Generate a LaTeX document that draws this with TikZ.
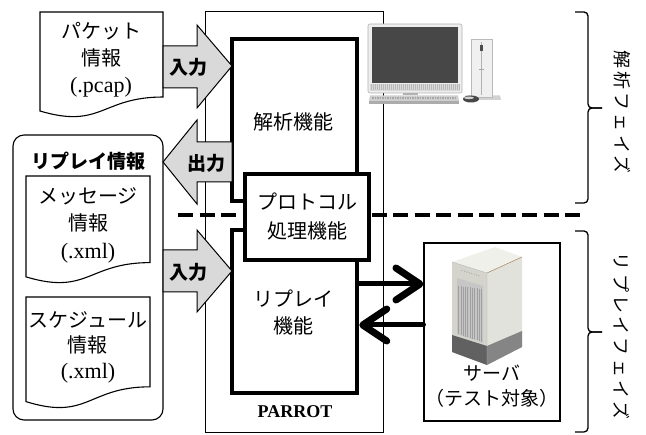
\documentclass[tikz,border=0pt]{standalone}
\usepackage{fontspec}
\setmainfont{Liberation Serif}
\newfontfamily\jp{Noto Sans CJK JP}
\usetikzlibrary{arrows.meta}

\definecolor{arrowfill}{RGB}{217,217,217}
\definecolor{srvfront}{RGB}{212,212,204}
\definecolor{srvside}{RGB}{226,226,220}
\definecolor{srvtop}{RGB}{240,240,234}

% Latin text inside Japanese blocks
\newcommand\latn[1]{{\rmfamily\fontsize{22}{27}\selectfont #1}}

% document symbol with a wavy lower edge: x1, x2, top, height
\newcommand\docshape[4]{%
  \draw[thinline, fill=white] (#1,#3) -- (#2,#3) -- (#2,{#3+0.802*#4})
    .. controls ({(#1+#2)/2},{#3+0.802*#4}) and ({(#1+#2)/2},{#3+1.107*#4})
    .. (#1,{#3+0.934*#4}) -- cycle;}

% right-pointing bracket: top, tip, bottom
\newcommand\phasebracket[3]{%
  \draw[bracket] (575,#1) -- (588,#1) -- (588,#2) -- (602,#2);
  \draw[bracket] (575,#3) -- (588,#3) -- (588,#2) -- (602,#2);}

\begin{document}
\begin{tikzpicture}[x=1pt,y=-1pt,
  thinline/.style={line width=1.1pt},
  thickbox/.style={draw, rectangle, line width=4.5pt, fill=white, inner sep=0pt},
  plainbox/.style={draw, rectangle, line width=1pt, fill=white, inner sep=0pt},
  blockarrow/.style={draw, line width=1pt, fill=arrowfill, line join=miter},
  body/.style={font=\jp\fontsize{20}{27}\selectfont, align=center, inner sep=0pt},
  tag/.style={font=\jp\bfseries\fontsize{19}{22}\selectfont, inner sep=0pt},
  flow/.style={line width=5pt, line cap=round,
    -{Straight Barb[length=24pt,width=32pt,line width=7pt,line cap=round,line join=round]}},
  phase/.style={font=\jp\fontsize{18}{18}\selectfont\addfontfeature{LetterSpace=18},
    rotate=-90, inner sep=0pt},
  bracket/.style={line width=1.3pt, rounded corners=4pt}
]
\useasboundingbox (0,0) rectangle (646,435);

% ---------- PARROT frame and its function blocks ----------
\node[plainbox, minimum width=178pt, minimum height=421pt] (parrot) at (294,222.5) {};
\node[font=\bfseries\fontsize{18}{20}\selectfont, inner sep=0pt] (parrotlabel) at (295,412) {PARROT};

\node[thickbox, minimum width=125pt, minimum height=162pt] (ana) at (294.5,120) {};
\node[body] (anatext) at (293,122) {解析機能};

\node[thickbox, minimum width=125pt, minimum height=163pt] (rep) at (294.5,311.5) {};
\node[body] (reptext) at (293,313) {リプレイ\\機能};

% phase separator
\draw[line width=4pt, dash pattern=on 15pt off 6.5pt] (178,215) -- (586,215);

\node[thickbox, minimum width=124pt, minimum height=86pt,
      body, font=\jp\fontsize{20}{29}\selectfont] (proto) at (307,217) {プロトコル\\処理機能};

% ---------- input documents ----------
\docshape{40}{163}{12}{106}
\node[body] (pkt) at (101,60) {パケット\\情報\\\latn{(.pcap)}};

\draw[thinline, rounded corners=11pt] (13,135) rectangle (163,420);
\node[tag] (info) at (88,161) {リプレイ情報};

\docshape{26}{150}{176}{108}
\node[body, font=\jp\fontsize{20}{27.5}\selectfont] (msg) at (88,225) {メッセージ\\情報\\\latn{(.xml)}};

\docshape{26}{150}{297}{112}
\node[body, font=\jp\fontsize{20}{25.5}\selectfont] (sch) at (88,347) {スケジュール\\情報\\\latn{(.xml)}};

% ---------- block arrows ----------
\draw[blockarrow] (163,46) -- (197,46) -- (197,25) -- (232,66) -- (197,108) -- (197,88) -- (163,88) -- cycle;
\node[tag] (in1) at (188,67) {入力};

\draw[blockarrow] (232,142) -- (197,142) -- (197,120) -- (163,162) -- (197,204) -- (197,182) -- (232,182) -- cycle;
\node[tag] (out) at (206,163) {出力};

\draw[blockarrow] (163,250) -- (197,250) -- (197,230) -- (232,271) -- (197,312) -- (197,292) -- (163,292) -- cycle;
\node[tag] (in2) at (188,272) {入力};

% ---------- server under test ----------
\node[draw, rectangle, line width=1.1pt, minimum width=136pt, minimum height=178pt] (srv) at (492,332) {};
\node[body, font=\jp\fontsize{19}{25}\selectfont] (srvtext) at (492,386) {サーバ\\（テスト対象）};

% server tower
\fill[srvfront] (452,262) -- (487,273) -- (487,365) -- (452,352) -- cycle;
\fill[srvside] (487,273) -- (522,257) -- (522,347) -- (487,365) -- cycle;
\fill[srvtop] (452,262) -- (495,247) -- (522,257) -- (487,273) -- cycle;
\fill[black!62] (452,335) -- (487,346) -- (487,365) -- (452,352) -- cycle;
\fill[black!48] (487,346) -- (522,331) -- (522,347) -- (487,365) -- cycle;
\fill[gray!45] (457,278) -- (483,286) -- (483,343) -- (457,334) -- cycle;
\foreach \k in {0,...,10}
  \draw[gray!75, line width=0.5pt] ({458.5+2.3*\k},{282+0.3*\k+4}) -- ({458.5+2.3*\k},{334.5+0.31*\k*2.3});
\foreach \k in {0,...,7}
  \fill[gray!70] ({462+2.4*\k},{270.5+0.75*\k}) circle (0.6);
\draw[brown!60!gray, line width=0.5pt] (487,273) -- (522,257);
\draw[gray!60, line width=0.4pt] (452,262) -- (487,273) -- (487,365);

% ---------- analysis workstation ----------
\fill[gray!13, rounded corners=2pt] (368,24) rectangle (462,93);
\draw[gray!60, line width=0.6pt, rounded corners=2pt] (368,24) rectangle (462,93);
\fill[black!72] (372,27) rectangle (458,83);
\fill[gray!30] (370,84) rectangle (460,91);
\foreach \k in {0,...,44}
  \draw[gray!55, line width=0.3pt] ({371+2*\k},84.5) -- ++(0,6);
\fill[gray!60] (403,93) rectangle (418,95.5);
\fill[gray!38] (370,95.5) -- (458,95.5) -- (459,101) -- (369,101) -- cycle;
\draw[gray!70, line width=1.6pt, dash pattern=on 1.6pt off 0.9pt] (372,98) -- (456,98);
\fill[gray!65] (369,101) rectangle (459,104);
\fill[gray!35] (465,95.5) -- (500,95.5) -- (501,100) -- (465,100) -- cycle;
\fill[gray!12] (471,39) rectangle (492,97);
\draw[gray!55, line width=0.5pt] (471,39) rectangle (492,97);
\draw[gray!60, line width=0.6pt] (481.5,42) -- (481.5,95);
\fill[black!70] (480,45) rectangle (483,51);
\draw[gray!70, line width=0.6pt] (479,69) -- (484,69);
\fill[black!72] (471,99) ellipse [x radius=8, y radius=3.5];
\fill[gray!35] (469,97.8) ellipse [x radius=5, y radius=1.3];

% ---------- traffic between replay block and server ----------
\coordinate (upper) at (0,284);
\coordinate (lower) at (0,325);
\draw[flow] (rep.east |- upper) -- (srv.west |- upper);
\draw[flow] (srv.west |- lower) -- (rep.east |- lower);

% ---------- phase brackets ----------
\phasebracket{12}{108}{203}
\node[phase] (ph1) at (622,112) {解析フェイズ};
\phasebracket{231}{332}{432}
\node[phase] (ph2) at (622,336) {リプレイフェイズ};

\end{tikzpicture}
\end{document}
